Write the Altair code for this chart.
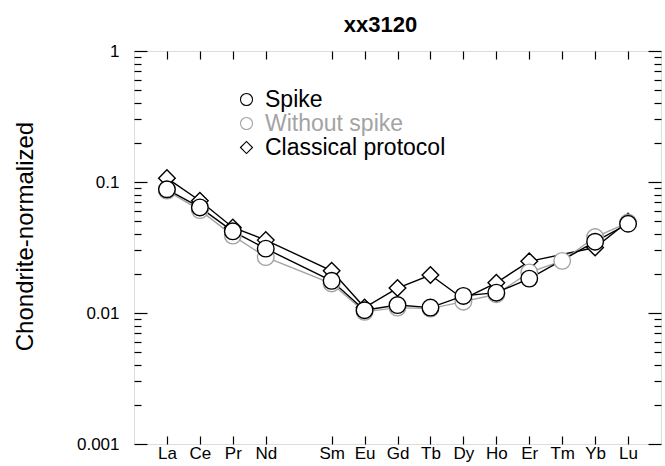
import altair as alt
import pandas as pd

# ---------------- data ----------------
elements = ["La", "Ce", "Pr", "Nd", "Pm", "Sm", "Eu", "Gd", "Tb", "Dy", "Ho", "Er", "Tm", "Yb", "Lu"]
positions = list(range(1, 16))

spike = [0.088, 0.064, 0.042, 0.031, None, 0.0176, 0.0105, 0.0115, 0.011, 0.0135,
         0.0143, 0.0183, None, 0.035, 0.048]
without_spike = [0.086, 0.061, 0.039, 0.0267, None, 0.0168, 0.0102, 0.011, 0.0108, 0.0122,
                 0.0139, 0.0204, 0.025, 0.038, 0.049]
classical = [0.107, 0.072, 0.045, 0.036, None, 0.021, 0.011, 0.0155, 0.0195, 0.0128,
             0.017, 0.0248, None, 0.0316, 0.05]

series_names = ["Spike", "Without spike", "Classical protocol"]
series_shapes = ["circle", "circle", "diamond"]
series_colors = ["#000000", "#a3a3a3", "#000000"]

tick_positions = [p for p, e in zip(positions, elements) if e != "Pm"]
major_y = [0.001, 0.01, 0.1, 1]
minor_y = [k * 10.0 ** e for e in (-3, -2, -1) for k in range(2, 10)]

rows = []
# drawing order: classical (bottom), without spike, spike (top)
for name, vals in [("Classical protocol", classical), ("Without spike", without_spike), ("Spike", spike)]:
    for p, el, v in zip(positions, elements, vals):
        if v is not None:
            rows.append({"pos": p, "element": el, "value": v, "series": name})
df = pd.DataFrame(rows)

FONT = "Liberation Sans"
label_expr = "[" + ",".join(["''"] + [f"'{e}'" for e in elements]) + "][datum.value]"

xscale = alt.Scale(domain=[0, 16], nice=False, zero=False)
yscale = alt.Scale(type="log", domain=[0.001, 1], nice=False)
shape_scale = alt.Scale(domain=series_names, range=series_shapes)
color_scale = alt.Scale(domain=series_names, range=series_colors)

base = alt.Chart(df)

x_bottom = alt.Axis(orient="bottom", values=tick_positions, labelExpr=label_expr, tickSize=8, offset=-8,
                    domain=False, grid=False, labelFontSize=17, labelFont=FONT, labelColor="black",
                    tickColor="black", tickWidth=1.2, labelPadding=1, title=None)
x_top = alt.Axis(orient="top", values=tick_positions, labels=False, tickSize=8, offset=-8,
                 domain=False, grid=False, tickColor="black", tickWidth=1.2, title=None)
y_left_major = alt.Axis(orient="left", values=major_y, format=".3~f", tickSize=13, offset=-13,
                        domain=False, grid=False, labelFontSize=17, labelFont=FONT, labelColor="black",
                        tickColor="black", tickWidth=1.2, labelPadding=15,
                        title="Chondrite-normalized", titleFont=FONT, titleFontSize=24,
                        titleFontWeight="normal", titleColor="black", titlePadding=39, titleY=185)
y_left_minor = alt.Axis(orient="left", values=minor_y, labels=False, tickSize=7, offset=-7,
                        domain=False, grid=False, tickColor="black", tickWidth=1.2, title=None)
y_right_major = alt.Axis(orient="right", values=major_y, labels=False, tickSize=13, offset=-13,
                         domain=False, grid=False, tickColor="black", tickWidth=1.2, title=None)
y_right_minor = alt.Axis(orient="right", values=minor_y, labels=False, tickSize=7, offset=-7,
                         domain=False, grid=False, tickColor="black", tickWidth=1.2, title=None)

legend = alt.Legend(title=None, orient="none", legendX=101, legendY=37, padding=0,
                    labelFont=FONT, labelFontSize=23, symbolSize=145,
                    symbolStrokeWidth=1.1, symbolFillColor="white",
                    labelOffset=7, rowPadding=0, labelLimit=400,
                    labelColor={"expr": "datum.label == 'Without spike' ? '#a3a3a3' : '#000000'"})

# one line layer per series (classical first, spike last)
line_layers = []
line_order = ["Classical protocol", "Without spike", "Spike"]
for i, name in enumerate(line_order):
    col = series_colors[series_names.index(name)]
    if i == 0:
        xa, ya = x_bottom, y_left_major
    else:
        xa, ya = None, None
    line_layers.append(
        base.transform_filter(alt.datum.series == name).mark_line(strokeWidth=1.4, color=col).encode(
            x=alt.X("pos:Q", scale=xscale, axis=xa),
            y=alt.Y("value:Q", scale=yscale, axis=ya),
        )
    )

points = base.mark_point(size=275, fill="white", fillOpacity=1, opacity=1, strokeWidth=1.4).encode(
    x=alt.X("pos:Q", scale=xscale, axis=x_top),
    y=alt.Y("value:Q", scale=yscale, axis=y_left_minor),
    shape=alt.Shape("series:N", scale=shape_scale, legend=legend),
    stroke=alt.Stroke("series:N", scale=color_scale, legend=legend),
)

ghost1 = base.mark_point(opacity=0).encode(
    x=alt.X("pos:Q", scale=xscale, axis=None),
    y=alt.Y("value:Q", scale=yscale, axis=y_right_major),
)
ghost2 = base.mark_point(opacity=0).encode(
    x=alt.X("pos:Q", scale=xscale, axis=None),
    y=alt.Y("value:Q", scale=yscale, axis=y_right_minor),
)

chart = alt.layer(*line_layers, points, ghost1, ghost2).resolve_axis(
    x="independent", y="independent"
).properties(
    width=527, height=393,
    autosize=alt.AutoSizeParams(type="none"),
    padding={"left": 134, "top": 51, "right": 4, "bottom": 22},
    title=alt.TitleParams("xx3120", font=FONT, fontSize=22, fontWeight="bold", color="black",
                          anchor="middle", dx=-17, offset=5),
).configure_view(stroke="black", strokeWidth=1.3).configure(background="white")

chart.save("out.html", embed_options={"renderer": "svg", "actions": False})
